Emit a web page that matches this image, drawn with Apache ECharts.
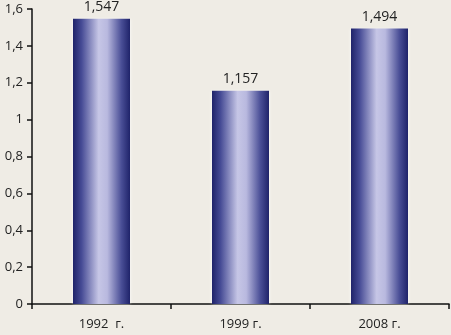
<!DOCTYPE html>
<html>
<head>
<meta charset="utf-8">
<script src="https://cdn.jsdelivr.net/npm/echarts@6/dist/echarts.min.js"></script>
<style>
html,body{margin:0;padding:0;background:#efece5;}
#c{width:451px;height:335px;}
</style>
</head>
<body>
<div id="c"></div>
<script>
var categories = ['1992  г.', '1999 г.', '2008 г.'];
var values = [1.547, 1.157, 1.494];
var yTicks = [0, 0.2, 0.4, 0.6, 0.8, 1, 1.2, 1.4, 1.6];

function fmt(v) {
  return String(Math.round(v * 1000) / 1000).replace('.', ',');
}

var chart = echarts.init(document.getElementById('c'), null, {renderer: 'canvas'});
var font = '"Open Sans", "Liberation Sans", sans-serif';
chart.setOption({
  backgroundColor: '#efece5',
  animation: false,
  grid: {left: 32, right: 2, top: 9, bottom: 31, containLabel: false},
  xAxis: {
    type: 'category',
    data: categories,
    boundaryGap: true,
    axisLine: {lineStyle: {color: '#111', width: 1.5}},
    axisTick: {show: true, alignWithLabel: false, length: 5, lineStyle: {color: '#111', width: 1.5}},
    axisLabel: {color: '#222', fontFamily: font, fontSize: 13, margin: 14}
  },
  yAxis: {
    type: 'value',
    min: yTicks[0],
    max: yTicks[yTicks.length - 1],
    interval: 0.2,
    splitLine: {show: false},
    axisLine: {show: true, lineStyle: {color: '#111', width: 1.5}},
    axisTick: {show: true, length: 5, lineStyle: {color: '#111', width: 1.5}},
    axisLabel: {color: '#222', fontFamily: font, fontSize: 13, margin: 9,
      formatter: function (v) { return fmt(v); }}
  },
  series: [{
    type: 'bar',
    data: values,
    barWidth: 57,
    itemStyle: {
      color: new echarts.graphic.LinearGradient(0, 0, 1, 0, [
        {offset: 0, color: '#1f236a'},
        {offset: 0.15, color: '#464b95'},
        {offset: 0.45, color: '#c6c6e6'},
        {offset: 0.6, color: '#b9b9df'},
        {offset: 0.85, color: '#494e96'},
        {offset: 1, color: '#1f236a'}
      ]),
      shadowColor: 'rgba(255,255,255,0.9)',
      shadowBlur: 3
    },
    label: {
      show: true,
      position: 'top',
      distance: 5,
      color: '#222',
      fontFamily: font,
      fontSize: 14,
      formatter: function (p) { return fmt(p.value); }
    }
  }]
});
</script>
</body>
</html>
